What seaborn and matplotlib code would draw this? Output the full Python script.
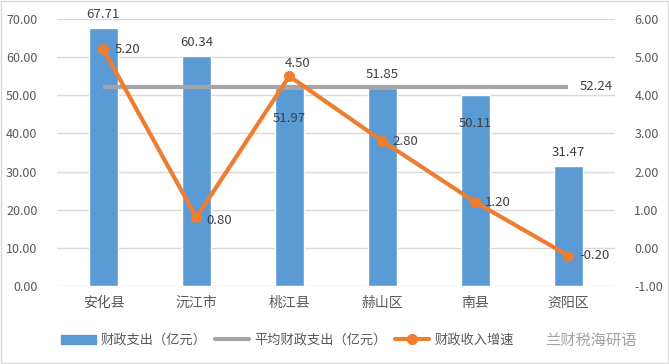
import numpy as np
import pandas as pd
import seaborn as sns
import matplotlib.pyplot as plt
from matplotlib.patches import Rectangle
from matplotlib.lines import Line2D

counties = ["安化县", "沅江市", "桃江县", "赫山区", "南县", "资阳区"]
spending = [67.71, 60.34, 51.97, 51.85, 50.11, 31.47]  # 财政支出（亿元）
avg_spending = 52.24
growth = [5.20, 0.80, 4.50, 2.80, 1.20, -0.20]  # 财政收入增速

sns.set_style("white")
plt.rcParams["font.family"] = ["Noto Sans CJK SC", "DejaVu Sans"]

blue = "#5B9BD5"
gray = "#A5A5A5"
orange = "#ED7D31"
txt = "#595959"

df = pd.DataFrame({"县": counties, "支出": spending})
pos = np.arange(len(counties))

fig = plt.figure(figsize=(6.69, 3.64), dpi=100)
ax = fig.add_axes([0.085, 0.214, 0.834, 0.734])

ax.set_axisbelow(True)
ax.yaxis.grid(True, color="#D9D9D9", lw=1)
sns.barplot(data=df, x="县", y="支出", color=blue, width=0.31, saturation=1, ax=ax)
ax.plot(pos, [avg_spending] * len(pos), color=gray, lw=3, solid_capstyle="butt")

ax.set_ylim(0, 70)
ax.set_yticks(np.arange(0, 71, 10))
ax.set_yticklabels([f"{v:.2f}" for v in np.arange(0, 71, 10)])
ax.set_xlim(-0.5, len(counties) - 0.5)
ax.set_xlabel("")
ax.set_ylabel("")
for s in ax.spines.values():
    s.set_visible(False)
ax.tick_params(axis="y", length=0, labelsize=9, labelcolor=txt, pad=14)
ax.tick_params(axis="x", length=0, labelsize=10, labelcolor=txt, pad=7)

# bar value labels (two of them sit inside the bar, as in the original)
bar_offsets = [5, 5, -27, 5, -25, 5]
for i, (v, off) in enumerate(zip(spending, bar_offsets)):
    ax.annotate(f"{v:.2f}", (i, v), xytext=(0, off), textcoords="offset points",
                ha="center", va="bottom", fontsize=9.5, color="#404040")
ax.annotate(f"{avg_spending:.2f}", (pos[-1], avg_spending), xytext=(8, 0),
            textcoords="offset points", ha="left", va="center", fontsize=9.5, color="#404040")

ax2 = ax.twinx()
sns.lineplot(x=pos, y=growth, ax=ax2, color=orange, lw=3, marker="o",
             markersize=8, markeredgewidth=0)
ax2.set_ylim(-1, 6)
ax2.set_yticks(np.arange(-1, 7, 1))
ax2.set_yticklabels([f"{v:.2f}" for v in np.arange(-1, 7, 1)])
for s in ax2.spines.values():
    s.set_visible(False)
ax2.tick_params(axis="y", length=0, labelsize=9, labelcolor=txt, pad=14)
ax2.set_xlim(-0.5, len(counties) - 0.5)

line_offsets = [(8, 0), (7, -2), (6, 9), (7, 0), (7, 0), (8, 0)]
for i, (v, (dx, dy)) in enumerate(zip(growth, line_offsets)):
    ha = "center" if dy > 5 else "left"
    ax2.annotate(f"{v:.2f}", (i, v), xytext=(dx, dy), textcoords="offset points",
                 ha=ha, va="center", fontsize=9.5, color="#404040")

handles = [
    Rectangle((0, 0), 1, 1, color=blue),
    Line2D([], [], color=gray, lw=3),
    Line2D([], [], color=orange, lw=3, marker="o", markersize=7),
]
labels = ["财政支出（亿元）", "平均财政支出（亿元）", "财政收入增速"]
fig.legend(handles, labels, loc="center", bbox_to_anchor=(0.43, 0.065), ncol=3,
           frameon=False, fontsize=9.5, handlelength=2.6, columnspacing=0.6,
           handletextpad=0.4, labelcolor=txt)

# watermark
fig.text(0.815, 0.065, "兰财税海研语", ha="left", va="center", fontsize=11,
         color="#8C8C8C", alpha=0.8)

fig.patches.append(Rectangle((0.001, 0.002), 0.997, 0.995, transform=fig.transFigure,
                             fill=False, edgecolor="#D9D9D9", lw=1))

fig.savefig("out.png", dpi=100)
